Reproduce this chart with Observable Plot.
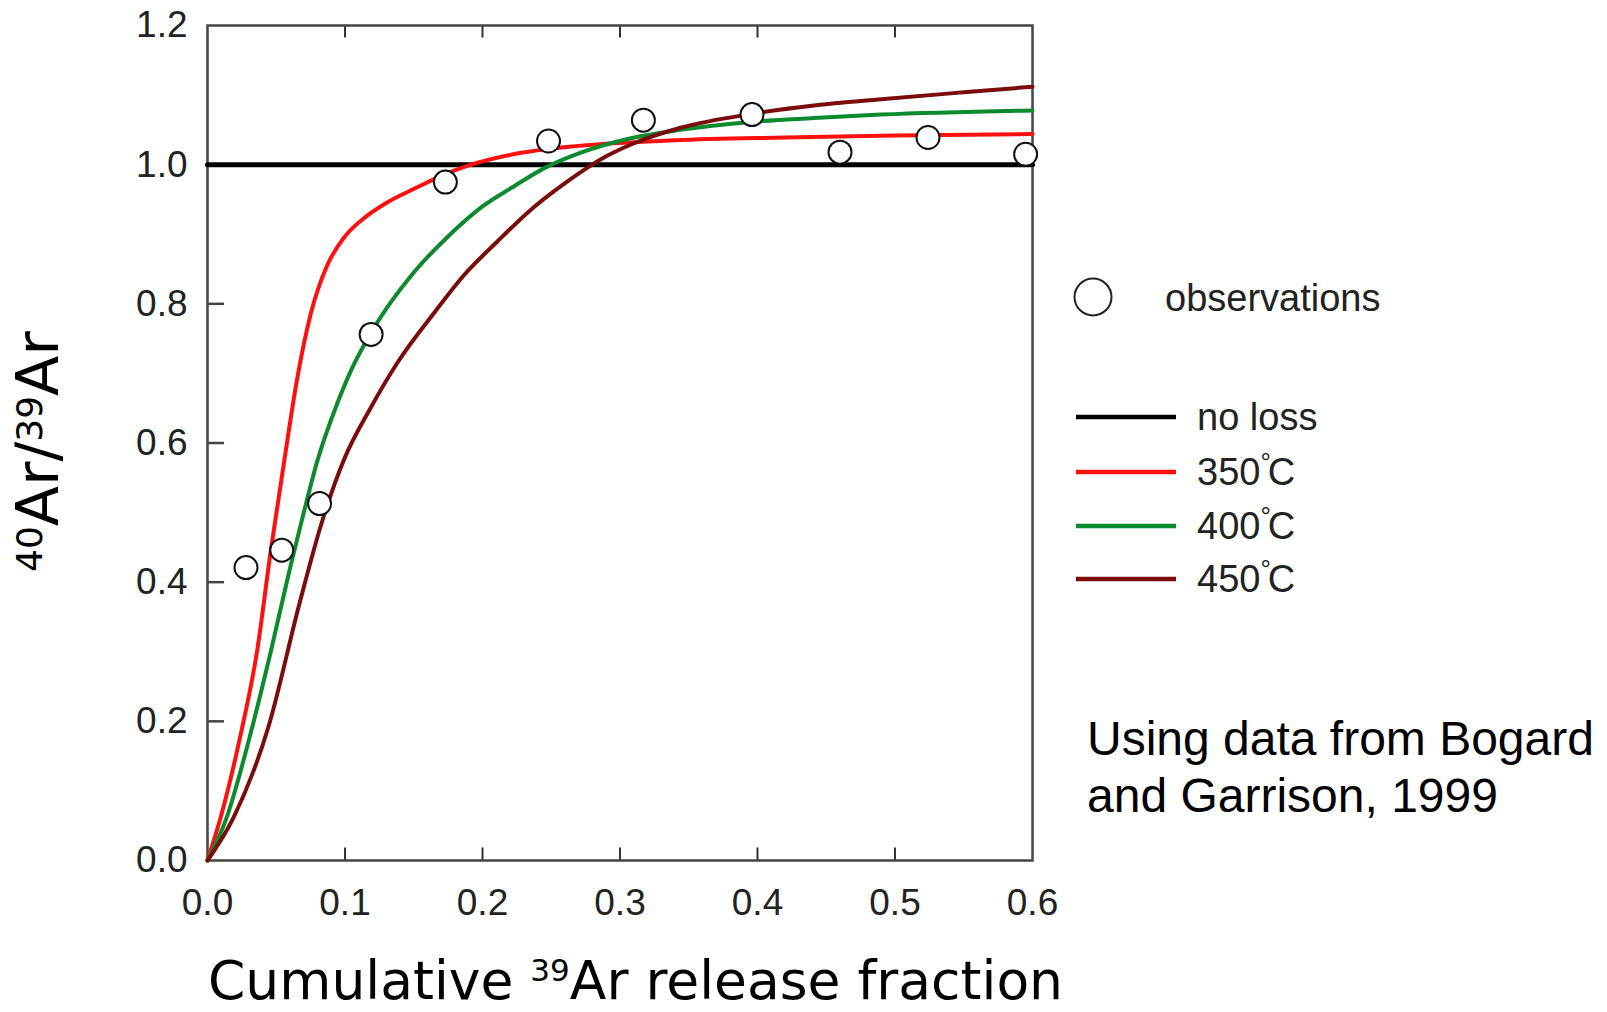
<!DOCTYPE html>
<html><head><meta charset="utf-8">
<script src="https://cdn.jsdelivr.net/npm/d3@7"></script>
<script src="https://cdn.jsdelivr.net/npm/@observablehq/plot@0.6"></script>
<style>html,body{margin:0;padding:0;background:#fff;overflow:hidden}</style>
</head><body><div id="chart"></div>
<script>
// Observations (cumulative 39Ar release fraction, 40Ar/39Ar)
const obsX = [0.028, 0.054, 0.0815, 0.119, 0.173, 0.248, 0.317, 0.396, 0.46, 0.524, 0.595];
const obsY = [0.421, 0.446, 0.513, 0.756, 0.975, 1.034, 1.064, 1.072, 1.018, 1.039, 1.015];

// Model curves
const noLossX = [0, 0.6];
const noLossY = [1, 1];
const c350X = [0, 0.01, 0.024, 0.036, 0.046, 0.0555, 0.065, 0.075, 0.087, 0.1, 0.115, 0.13, 0.15, 0.17, 0.19, 0.22, 0.27, 0.34, 0.42, 0.5, 0.6];
const c350Y = [0, 0.065, 0.18, 0.30, 0.445, 0.57, 0.69, 0.785, 0.855, 0.897, 0.925, 0.945, 0.965, 0.984, 0.999, 1.014, 1.027, 1.035, 1.039, 1.042, 1.044];
const c400X = [0, 0.014, 0.031, 0.046, 0.06, 0.07, 0.08, 0.094, 0.105, 0.1185, 0.15, 0.174, 0.2, 0.223, 0.245, 0.271, 0.308, 0.344, 0.3925, 0.441, 0.49, 0.6];
const c400Y = [0, 0.062, 0.18, 0.30, 0.42, 0.50, 0.575, 0.655, 0.707, 0.757, 0.845, 0.895, 0.94, 0.969, 0.995, 1.017, 1.038, 1.05, 1.061, 1.067, 1.072, 1.078];
const c450X = [0, 0.019, 0.044, 0.067, 0.083, 0.099, 0.1185, 0.138, 0.166, 0.186, 0.211, 0.235, 0.259, 0.272, 0.29, 0.308, 0.344, 0.396, 0.441, 0.49, 0.55, 0.6];
const c450Y = [0, 0.062, 0.19, 0.37, 0.485, 0.575, 0.65, 0.715, 0.79, 0.84, 0.89, 0.935, 0.972, 0.99, 1.012, 1.029, 1.053, 1.073, 1.085, 1.094, 1.104, 1.112];

const seriesNames = ["no loss", "350", "400", "450"];
const seriesColors = ["#000000", "#ff1010", "#0b8a2e", "#7a0c0c"];

const xTicks = [0, 0.1, 0.2, 0.3, 0.4, 0.5, 0.6];
const yTicks = [0, 0.2, 0.4, 0.6, 0.8, 1.0, 1.2];

const toPts = (xs, ys) => xs.map((x, i) => ({x, y: ys[i]}));
const obs = toPts(obsX, obsY);
const curves = [toPts(noLossX, noLossY), toPts(c350X, c350Y), toPts(c400X, c400Y), toPts(c450X, c450Y)];
const innerX = xTicks.slice(1, -1);
const innerY = yTicks.slice(1, -1);

const svg = Plot.plot({
  width: 1607, height: 1012,
  marginLeft: 207, marginRight: 575, marginTop: 25, marginBottom: 152,
  x: {domain: [0, 0.6]},
  y: {domain: [0, 1.2]},
  style: {background: "#fff", fontFamily: "'Liberation Sans', Arial, sans-serif", fontSize: "37px", color: "#222"},
  marks: [
    Plot.ruleX(innerX, {x: d => d, y1: 0, y2: 0.018, stroke: "#333", strokeWidth: 2}),
    Plot.ruleX(innerX, {x: d => d, y1: 1.2, y2: 1.182, stroke: "#333", strokeWidth: 2}),
    Plot.ruleY(innerY, {y: d => d, x1: 0, x2: 0.0124, stroke: "#444", strokeWidth: 2.5}),
    Plot.frame({stroke: "#444", strokeWidth: 2.5}),
    Plot.axisY(yTicks, {anchor: "left", tickSize: 0, tickPadding: 20, tickFormat: d3.format(".1f"), label: null}),
    Plot.axisX(xTicks, {anchor: "bottom", tickSize: 0, tickPadding: 28, tickFormat: d3.format(".1f"), label: null}),
    Plot.line(curves[0], {x: "x", y: "y", stroke: seriesColors[0], strokeWidth: 5}),
    Plot.line(curves[1], {x: "x", y: "y", stroke: seriesColors[1], strokeWidth: 4, curve: "monotone-x"}),
    Plot.line(curves[2], {x: "x", y: "y", stroke: seriesColors[2], strokeWidth: 4, curve: "monotone-x"}),
    Plot.line(curves[3], {x: "x", y: "y", stroke: seriesColors[3], strokeWidth: 4, curve: "monotone-x"}),
    Plot.dot(obs, {x: "x", y: "y", r: 11.5, fill: "#fff", stroke: "#111", strokeWidth: 2})
  ]
});

const s = d3.select(svg);
const sans = "'Liberation Sans', Arial, sans-serif";
const verd = "'DejaVu Sans', Verdana, sans-serif";

// X axis title
const xt = s.append("text").attr("x", 208).attr("y", 999).attr("text-anchor", "start")
  .attr("font-family", verd).attr("font-size", 53.5).attr("fill", "#000");
xt.append("tspan").text("Cumulative ");
xt.append("tspan").attr("font-size", 31).attr("dy", -18).text("39");
xt.append("tspan").attr("dy", 18).text("Ar release fraction");

// Y axis title
const yt = s.append("text").attr("transform", "translate(58,572) rotate(-90)").attr("text-anchor", "start")
  .attr("font-family", verd).attr("font-size", 59).attr("fill", "#000");
yt.append("tspan").attr("font-size", 36).attr("dy", -16).text("40");
yt.append("tspan").attr("dy", 16).text("Ar/");
yt.append("tspan").attr("font-size", 36).attr("dy", -16).text("39");
yt.append("tspan").attr("dy", 16).text("Ar");

// Legend
const lg = s.append("g").attr("font-family", sans).attr("font-size", 38).attr("fill", "#222").attr("text-anchor", "start");
lg.append("circle").attr("cx", 1093).attr("cy", 297).attr("r", 18.5).attr("fill", "#fff").attr("stroke", "#222").attr("stroke-width", 2);
lg.append("text").attr("x", 1165).attr("y", 311).text("observations");
const lineYs = [417, 472, 526, 579];
seriesNames.forEach((name, i) => {
  lg.append("line").attr("x1", 1076).attr("x2", 1176).attr("y1", lineYs[i]).attr("y2", lineYs[i])
    .attr("stroke", seriesColors[i]).attr("stroke-width", 4.5);
  const t = lg.append("text").attr("x", 1197).attr("y", lineYs[i] + 13);
  if (i === 0) t.text(name);
  else {
    t.append("tspan").text(name);
    t.append("tspan").attr("font-size", 26).attr("dy", -14).text("°");
    t.append("tspan").attr("dy", 14).attr("dx", -3).text("C");
  }
});

// Source note
const note = s.append("text").attr("font-family", sans).attr("font-size", 48).attr("fill", "#000").attr("text-anchor", "start");
note.append("tspan").attr("x", 1087).attr("y", 755).text("Using data from Bogard");
note.append("tspan").attr("x", 1087).attr("y", 812).text("and Garrison, 1999");

document.getElementById("chart").appendChild(svg);
</script>
</body></html>
